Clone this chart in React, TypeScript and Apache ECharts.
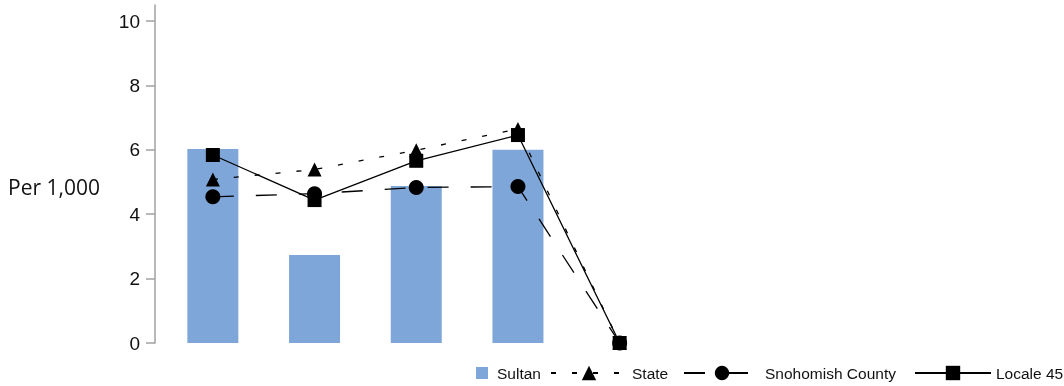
import React, { useEffect, useRef } from "react";
import * as echarts from "echarts";

const categories = ["1", "2", "3", "4", "5"];
const sultan = [6.03, 2.73, 4.88, 6.0, 0];
const state = [5.08, 5.39, 5.99, 6.65, 0];
const snohomish = [4.54, 4.64, 4.83, 4.86, 0];
const locale45 = [5.84, 4.44, 5.66, 6.46, 0];
const yTicks = [0, 2, 4, 6, 8, 10];

const FONT = "'Liberation Sans', Arial, sans-serif";

export default function App() {
  const ref = useRef<HTMLDivElement>(null);
  useEffect(() => {
    if (!ref.current) return;
    const chart = echarts.init(ref.current, undefined, { renderer: "svg" });
    const legendText = { fontSize: 15.5, color: "#111", fontFamily: FONT };
    const lineLegend = (name: string, left: number) => ({
      data: [name],
      left,
      top: 365,
      itemWidth: 76,
      itemHeight: 18,
      padding: 0,
      textStyle: legendText,
    });
    chart.setOption({
      animation: false,
      textStyle: { fontFamily: FONT },
      grid: { left: 162, top: 5, width: 508.5, height: 338 },
      xAxis: {
        type: "category",
        data: categories,
        axisLine: { show: false },
        axisTick: { show: false },
        axisLabel: { show: false },
        splitLine: { show: false },
      },
      yAxis: {
        type: "value",
        min: 0,
        max: 10.5,
        offset: 7,
        axisLine: { show: true, lineStyle: { color: "#a0a0a0", width: 1.5 } },
        axisTick: {
          show: true,
          length: 9,
          customValues: yTicks,
          lineStyle: { color: "#a0a0a0", width: 1.5 },
        },
        axisLabel: {
          customValues: yTicks,
          margin: 15,
          fontSize: 19,
          color: "#111",
          fontFamily: FONT,
        },
        splitLine: { show: false },
      },
      legend: [
        {
          data: ["Sultan"],
          left: 476,
          top: 365,
          itemWidth: 12,
          itemHeight: 12,
          icon: "rect",
          padding: 0,
          textStyle: { ...legendText, padding: [0, 0, 0, 4] },
        },
        lineLegend("State", 550),
        lineLegend("Snohomish County", 683),
        lineLegend("Locale 45", 914),
      ],
      graphic: [
        {
          type: "text",
          x: 8,
          y: 187,
          style: {
            text: "Per 1,000",
            fontSize: 21,
            fontFamily: "'Open Sans', sans-serif",
            fill: "#111",
            align: "left",
            verticalAlign: "middle",
          },
        },
      ],
      series: [
        {
          name: "Sultan",
          type: "bar",
          data: sultan,
          barWidth: 51,
          itemStyle: { color: "#7ea6d8" },
        },
        {
          name: "State",
          type: "line",
          data: state,
          symbol: "triangle",
          symbolSize: 14,
          itemStyle: { color: "#000" },
          lineStyle: { color: "#000", width: 1.3, type: [5, 16] },
        },
        {
          name: "Snohomish County",
          type: "line",
          data: snohomish,
          symbol: "circle",
          symbolSize: 15,
          itemStyle: { color: "#000" },
          lineStyle: { color: "#000", width: 1.3, type: [21, 22] },
        },
        {
          name: "Locale 45",
          type: "line",
          data: locale45,
          symbol: "rect",
          symbolSize: 14,
          itemStyle: { color: "#000" },
          lineStyle: { color: "#000", width: 1.3 },
        },
      ],
    });
    return () => chart.dispose();
  }, []);
  return (
    <div
      ref={ref}
      style={{ position: "fixed", left: 0, top: 0, width: 1064, height: 386 }}
    />
  );
}
